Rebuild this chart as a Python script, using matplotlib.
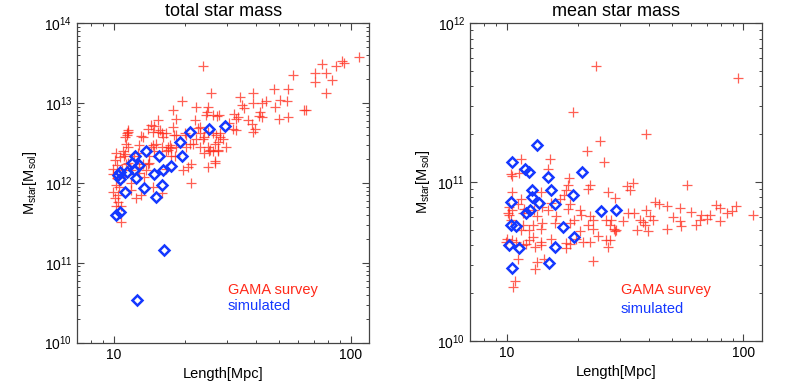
import numpy as np
import matplotlib
matplotlib.use("Agg")
import matplotlib.pyplot as plt
from matplotlib.ticker import LogLocator, NullFormatter, FixedLocator, FixedFormatter

plt.rcParams['font.family'] = ['Liberation Sans', 'DejaVu Sans']
plt.rcParams['mathtext.fontset'] = 'custom'
plt.rcParams['mathtext.rm'] = 'Liberation Sans'
plt.rcParams['mathtext.it'] = 'Liberation Sans:italic'

# total star mass, GAMA groups: length [Mpc], mass [1e12 Msol]
tot_gama_x = [108, 92, 94, 87, 75.5, 71, 79, 71, 83.5, 78.5, 57, 23.8, 54.4, 47.3, 38.6, 50.4, 53.8,
              34, 34.9, 35.6, 38.6, 42.3, 43.7, 47.7, 63.8, 65, 41.3, 41, 42.3, 50, 54.4, 32, 33.4,
              36.8, 38.3, 39.3, 38.6, 32.9, 27.9, 30.7, 31.8, 32.9, 25.8, 19.3, 22.3, 25, 24.7, 24.4,
              27.2, 17.7, 18.3, 21.9, 15.3, 14.7, 14.4, 15.3, 15.9, 13.2, 11.5, 11.3, 11.2, 12.8,
              17.7, 18.3, 20.2, 22.6, 23, 23.8, 26.2, 28, 29, 26.6, 25.3, 27.5, 29.8, 26.6, 20.9,
              22.3, 17.2, 16.9, 17.4, 18.1, 14.6, 14.8, 14.1, 14.1, 12.6, 12.2, 10.9, 11.0, 10.1,
              11.5, 9.9, 10.8, 11.8, 13.3, 13.7, 19.6, 16.6, 24.9,
              9.9, 10.2, 9.9, 10.4, 10.1, 10.4, 10.2, 10.7, 10.7, 11.8, 12.4, 13.0, 11.8, 13.4,
              14.6, 15.9, 21.2, 12.8,
              11.1, 11.2, 12.8, 13.9, 15.9, 21.2, 20.5, 26.6, 25.4, 27.5, 21.6, 23, 11.3, 11.5,
              11.1, 13, 13.9, 15.6, 16.1, 11.5, 10.2, 26.2, 24.9, 28, 23, 24, 27, 27.5, 24.9, 26.2,
              24, 18.3, 17.5, 20.2, 19.9, 17.9, 16.6, 14.6, 15.1, 16.9, 16.6, 14.3,
              10.3, 10.6, 10.3, 11.0, 10.5]
tot_gama_y = [37.5, 34, 32, 29, 31, 24, 23.5, 18.5, 19.5, 13.5, 22.5, 29, 15, 15, 13.5, 11, 10.7,
              11.8, 9.5, 8.7, 10, 10, 10.7, 8.9, 8.2, 8.3, 7.8, 6.8, 6.7, 6.4, 6.7, 7.2, 6.7,
              6.2, 5.5, 4.7, 4.3, 6.3, 7.1, 5.6, 4.8, 4.6, 13.5, 10.6, 8.9, 9, 7.8, 7.1,
              6.9, 8.2, 6.3, 6.1, 6.1, 5.1, 5.3, 4.3, 4.2, 3.8, 4.4, 4.0, 3.1, 3.0,
              5.0, 4.0, 4.0, 4.9, 4.2, 3.5, 4.2, 3.8, 3.5, 3.1, 2.5, 2.6, 2.8, 1.9, 3.1,
              3.5, 3.0, 2.6, 2.7, 2.15, 3.0, 2.5, 2.15, 1.8, 2.35, 2.15, 2.5, 2.15, 1.95,
              1.8, 1.5, 1.45, 1.45, 1.75, 1.45, 1.45, 1.5, 1.6,
              1.3, 0.95, 0.78, 0.70, 0.65, 0.58, 0.51, 0.51, 0.32, 0.81, 0.65, 0.70, 0.99, 1.2,
              0.9, 0.74, 0.99, 1.35,
              2.3, 1.75, 1.6, 1.75, 2.8, 1.75, 1.6, 1.8, 2.6, 2.5, 3.1, 2.8, 4.2, 4.6,
              3.8, 3.9, 4.8, 4.6, 3.8, 2.8, 2.35, 7.1, 4.4, 4.2, 5.0, 3.8, 4.0, 3.3, 2.8, 2.5,
              2.35, 2.8, 2.2, 2.8, 4.2, 4.0, 4.2, 4.3, 3.1, 2.8, 2.5, 2.8,
              1.7, 2.1, 1.15, 1.2, 0.88]

# total star mass, simulated groups [1e12 Msol]
tot_sim_x = [29.5, 25.1, 20.9, 19.1, 19.3, 17.5, 16.1, 15.5, 14.8, 16, 13.7, 13.4, 15.1, 12.3,
             11.9, 12.8, 12.2, 12.4, 11.3, 10.6, 10.4, 10.6, 11.1, 10.2, 10.6, 16.2, 12.5]
tot_sim_y = [5.1, 4.7, 4.4, 3.3, 2.2, 1.63, 1.46, 2.2, 1.3, 0.95, 2.5, 0.86, 0.67, 2.2,
             1.8, 1.7, 1.45, 1.15, 1.38, 1.38, 1.24, 1.12, 0.76, 0.40, 0.43, 0.145, 0.034]

# mean star mass, GAMA groups [1e10 Msol]
mean_gama_x = [23.7, 94.6, 19.1, 38.9, 24.8, 21.8, 25.8, 11.45, 15.2, 10.45, 11.2, 14.9, 18.25,
               57.5, 34.1, 32.2, 33.1, 22.0, 17.8, 10.56, 13.9, 26.7, 28.6, 42.2, 44.0, 47.3,
               53.9, 38.7, 32.5, 34.6, 76.5, 79.4, 72.2, 84.9, 89.2, 93, 109.5, 79.4, 65.2, 63.1,
               53.9, 54.3, 50.5, 47.3, 41.6, 40.2, 37.7, 38.3, 36.4, 39.5, 35.5, 28.6, 31, 27.6,
               27.2, 10.56, 22.4, 11.45, 11.1, 10.2, 10.56, 10.15, 11.85, 11.65, 13.0, 13.4, 14.1,
               14.9, 15.4, 16.7, 17.5, 18.4, 18.1, 20.3, 20.6, 22.4, 23.1, 22, 26.3, 27.2, 28.4,
               23.1, 19.3, 18.4, 16.2, 15.9, 14.1, 13.9, 12.85, 12.4, 11.65, 11.45, 10.2, 10.4,
               10.05, 10.56, 12.4, 12.85, 13.9, 15.4, 18.4, 19.6, 20.3, 22.4, 24.3, 26.3, 29,
               11.65, 13.2, 17.8, 26.7, 13.4, 13.2, 14.4, 23.1, 10.85, 10.6, 9.9, 10.9, 12.0,
               13.9, 17.8, 21, 11.1, 18.1, 70, 66, 60]
mean_gama_y = [53.8, 45, 27.5, 20, 18.2, 15.8, 13.4, 13.9, 13.9, 11.3, 11.4, 12.0, 10.6,
               9.6, 9.8, 9.5, 8.9, 9.0, 8.9, 8.6, 8.6, 8.6, 7.9, 7.5, 7.3, 7.1,
               6.9, 6.7, 6.35, 6.35, 7.2, 6.9, 6.2, 6.35, 6.6, 7.1, 6.2, 5.65, 5.8, 5.4,
               5.7, 5.3, 6.0, 5.1, 5.8, 6.1, 5.6, 5.4, 5.8, 4.9, 5.0, 4.9, 5.7, 5.75,
               4.3, 11.0, 9.6, 7.8, 7.3, 7.0, 6.7, 6.35, 6.8, 6.35, 6.7, 6.1, 7.0,
               6.7, 7.4, 7.8, 8.3, 7.3, 6.8, 6.7, 6.2, 6.1, 5.8, 5.4, 5.8, 5.4, 5.1,
               5.1, 5.8, 5.5, 6.1, 5.5, 5.5, 5.1, 5.4, 5.0, 5.4, 5.0, 6.2, 5.8,
               4.4, 4.3, 4.3, 4.5, 4.2, 4.4, 4.1, 4.4, 4.9, 4.2, 4.6, 4.3, 5.0,
               4.0, 3.9, 3.85, 3.9, 3.15, 2.83, 3.3, 3.2, 2.37, 2.2, 4.2, 4.2, 4.1,
               4.0, 4.15, 4.2, 3.3, 9.6, 5.9, 6.2, 6.5]

# mean star mass, simulated groups [1e10 Msol]
mean_sim_x = [10.56, 13.35, 11.9, 12.35, 14.87, 20.8, 12.77, 15.37, 19.1, 10.4, 12.77, 13.7,
              16.03, 12.1, 12.5, 25, 29, 17.2, 10.4, 10.9, 19.2, 10.23, 11.3, 15.9, 15.0, 10.5]
mean_sim_y = [13.3, 17.1, 12.1, 11.6, 10.7, 11.6, 8.9, 8.9, 8.3, 7.5, 8.0, 7.4,
              7.3, 6.4, 6.7, 6.6, 6.7, 5.2, 5.4, 5.3, 4.5, 4.0, 3.85, 3.9, 3.1, 2.87]

panels = [
    ("total star mass", tot_gama_x, np.array(tot_gama_y) * 1e12, tot_sim_x,
     np.array(tot_sim_y) * 1e12, (1e10, 1e14), [0.0985, 0.1258, 0.372, 0.815], 0.165, 0.115),
    ("mean star mass", mean_gama_x, np.array(mean_gama_y) * 1e10, mean_sim_x,
     np.array(mean_sim_y) * 1e10, (1e10, 1e12), [0.599, 0.1300, 0.372, 0.811], 0.16, 0.10),
]

red = '#ff2a1a'
blue = '#1438ff'

fig = plt.figure(figsize=(7.85, 3.92), dpi=100)
for title, gx, gy, sx, sy, ylim, pos, ty1, ty2 in panels:
    ax = fig.add_axes(pos)
    ax.set_xscale('log')
    ax.set_yscale('log')
    ax.plot(gx, gy, '+', color=red, ms=7.5, mew=0.9, alpha=0.75, zorder=2)
    ax.plot(sx, sy, 'D', mfc='none', mec=blue, ms=5.5, mew=1.8, zorder=3)
    ax.set_xlim(7, 120)
    ax.set_ylim(*ylim)
    ax.xaxis.set_major_locator(FixedLocator([10, 100]))
    ax.xaxis.set_major_formatter(FixedFormatter(['10', '100']))
    ax.xaxis.set_minor_locator(LogLocator(base=10, subs=np.arange(2, 10)))
    ax.xaxis.set_minor_formatter(NullFormatter())
    ax.yaxis.set_minor_locator(LogLocator(base=10, subs=np.arange(2, 10), numticks=20))
    ax.yaxis.set_minor_formatter(NullFormatter())
    ax.tick_params(which='both', direction='in', top=True, right=True, colors='#444444',
                   labelcolor='black', labelsize=10)
    ax.tick_params(which='major', length=5, width=0.8)
    ax.tick_params(which='minor', length=2.5, width=0.7)
    for s in ax.spines.values():
        s.set_color('#444444')
        s.set_linewidth(0.9)
    ax.set_title(title, fontsize=13, pad=5)
    ax.set_xlabel('Length[Mpc]', fontsize=10.5)
    ax.set_ylabel(r'M$_{\rm star}$[M$_{\rm sol}$]', fontsize=10.5)
    ax.text(0.515, ty1, 'GAMA survey', color=red, fontsize=10.5, transform=ax.transAxes,
            va='center')
    ax.text(0.515, ty2, 'simulated', color=blue, fontsize=10.5, transform=ax.transAxes,
            va='center')

fig.savefig('out.png', dpi=100)
